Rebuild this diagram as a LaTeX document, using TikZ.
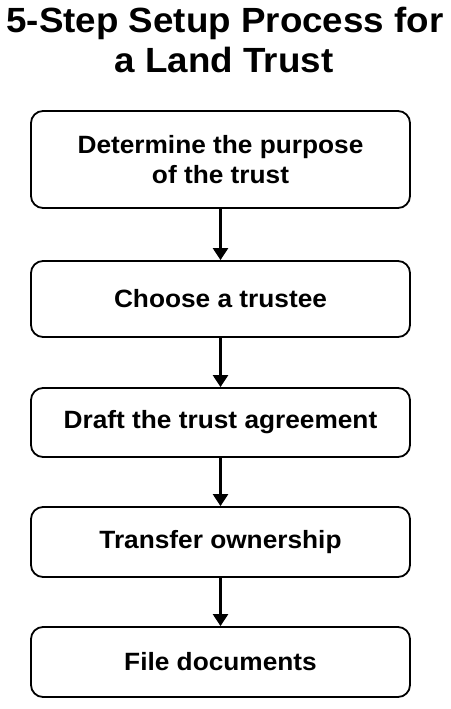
\documentclass[tikz,border=0pt]{standalone}
\usepackage{fontspec}
\setmainfont{Liberation Sans}[FakeStretch=1.05]
\usetikzlibrary{arrows.meta}
\tikzset{
  stepbox/.style={draw=black, line width=1.8pt, rounded corners=12pt, fill=white,
    minimum width=379pt, inner sep=0pt, align=center,
    font=\fontsize{25pt}{29.5pt}\selectfont\bfseries},
  flowarrow/.style={draw=black, line width=2.4pt, -{Triangle[length=12pt,width=15pt]}},
  titlefont/.style={font=\fontsize{35pt}{39pt}\selectfont\bfseries, inner sep=0pt, anchor=base}
}
\begin{document}
\begin{tikzpicture}[x=1pt,y=-1pt]
\useasboundingbox[fill=white] (0,0) rectangle (450,709);
\node[titlefont] (t1) at (225,33) {5-Step Setup Process for};
\node[titlefont] (t2) at (224,72) {a Land Trust};
\node[stepbox, minimum height=97pt] (b1) at (220.5,159.5) {Determine the purpose\\of the trust};
\node[stepbox, minimum height=76pt] (b2) at (220.5,299) {Choose a trustee};
\node[stepbox, minimum height=69pt] (b3) at (220.5,422.5) {Draft the trust agreement};
\node[stepbox, minimum height=70pt] (b4) at (220.5,542) {Transfer ownership};
\node[stepbox, minimum height=70pt] (b5) at (220.5,662) {File documents};
\draw[flowarrow] (b1) -- (b2);
\draw[flowarrow] (b2) -- (b3);
\draw[flowarrow] (b3) -- (b4);
\draw[flowarrow] (b4) -- (b5);
\end{tikzpicture}
\end{document}
